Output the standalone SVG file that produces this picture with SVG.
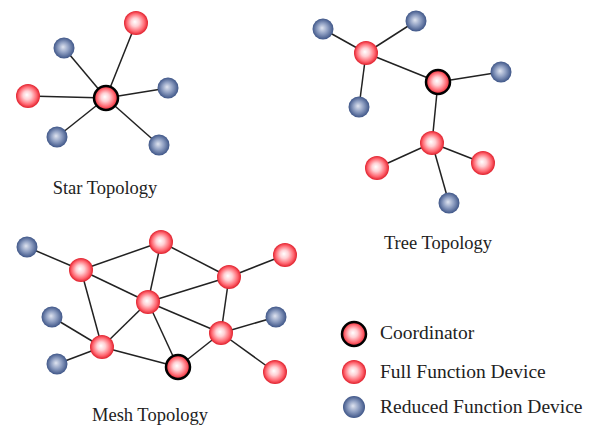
<svg xmlns="http://www.w3.org/2000/svg" width="591" height="427" viewBox="0 0 591 427">
<defs>
<radialGradient id="gR" cx="0.5" cy="0.5" r="0.5" fx="0.45" fy="0.45">
<stop offset="0" stop-color="#ffffff"/>
<stop offset="0.35" stop-color="#ffd0d4"/>
<stop offset="0.75" stop-color="#ff6670"/>
<stop offset="1" stop-color="#e0202c"/>
</radialGradient>
<radialGradient id="gB" cx="0.5" cy="0.5" r="0.5" fx="0.45" fy="0.45">
<stop offset="0" stop-color="#dfe4f0"/>
<stop offset="0.5" stop-color="#8f9fc2"/>
<stop offset="1" stop-color="#3f5688"/>
</radialGradient>
</defs>
<style>
.e line{stroke:#222;stroke-width:1.5}
.r{fill:url(#gR)}
.b{fill:url(#gB)}
.c{fill:url(#gR);stroke:#000;stroke-width:2.5}
text{font-family:"Liberation Serif","Times New Roman",serif;font-size:18.5px;fill:#222}
.t{text-anchor:middle}
.lg{font-size:19.5px}
</style>
<rect width="591" height="427" fill="#fff"/>
<g id="connectors" class="e">
<line x1="106" y1="98" x2="136" y2="23"/>
<line x1="106" y1="98" x2="64" y2="48"/>
<line x1="106" y1="98" x2="28" y2="96"/>
<line x1="106" y1="98" x2="168" y2="88"/>
<line x1="106" y1="98" x2="57" y2="137"/>
<line x1="106" y1="98" x2="159" y2="145"/>
<line x1="366" y1="53" x2="323" y2="29"/>
<line x1="366" y1="53" x2="416" y2="21"/>
<line x1="366" y1="53" x2="359" y2="107"/>
<line x1="366" y1="53" x2="438" y2="82"/>
<line x1="438" y1="82" x2="501" y2="72"/>
<line x1="438" y1="82" x2="432" y2="143"/>
<line x1="432" y1="143" x2="377" y2="168"/>
<line x1="432" y1="143" x2="483" y2="163"/>
<line x1="432" y1="143" x2="449" y2="203"/>
<line x1="27" y1="247" x2="81" y2="270"/>
<line x1="81" y1="270" x2="161" y2="242"/>
<line x1="81" y1="270" x2="148" y2="302"/>
<line x1="81" y1="270" x2="102" y2="347"/>
<line x1="161" y1="242" x2="148" y2="302"/>
<line x1="161" y1="242" x2="229" y2="277"/>
<line x1="229" y1="277" x2="285" y2="255"/>
<line x1="229" y1="277" x2="148" y2="302"/>
<line x1="229" y1="277" x2="221" y2="333"/>
<line x1="148" y1="302" x2="102" y2="347"/>
<line x1="148" y1="302" x2="221" y2="333"/>
<line x1="148" y1="302" x2="178" y2="367"/>
<line x1="102" y1="347" x2="52" y2="317"/>
<line x1="102" y1="347" x2="57" y2="364"/>
<line x1="102" y1="347" x2="178" y2="367"/>
<line x1="178" y1="367" x2="221" y2="333"/>
<line x1="221" y1="333" x2="276" y2="317"/>
<line x1="221" y1="333" x2="275" y2="372"/>
</g>
<g id="star-center"><circle class="c" cx="106" cy="98" r="12"/></g>
<g id="star-top"><circle class="r" cx="136" cy="23" r="12"/></g>
<g id="star-tl"><circle class="b" cx="64" cy="48" r="10.5"/></g>
<g id="star-left"><circle class="r" cx="28" cy="96" r="12"/></g>
<g id="star-right"><circle class="b" cx="168" cy="88" r="10.5"/></g>
<g id="star-bl"><circle class="b" cx="57" cy="137" r="10.5"/></g>
<g id="star-br"><circle class="b" cx="159" cy="145" r="10.5"/></g>
<g id="tree-b1"><circle class="b" cx="323" cy="29" r="10.5"/></g>
<g id="tree-b2"><circle class="b" cx="416" cy="21" r="10.5"/></g>
<g id="tree-r1"><circle class="r" cx="366" cy="53" r="12"/></g>
<g id="tree-b3"><circle class="b" cx="359" cy="107" r="10.5"/></g>
<g id="tree-coord"><circle class="c" cx="438" cy="82" r="12"/></g>
<g id="tree-b4"><circle class="b" cx="501" cy="72" r="10.5"/></g>
<g id="tree-r2"><circle class="r" cx="432" cy="143" r="12"/></g>
<g id="tree-r3"><circle class="r" cx="377" cy="168" r="12"/></g>
<g id="tree-r4"><circle class="r" cx="483" cy="163" r="12"/></g>
<g id="tree-b5"><circle class="b" cx="449" cy="203" r="10.5"/></g>
<g id="mesh-b1"><circle class="b" cx="27" cy="247" r="10.5"/></g>
<g id="mesh-a"><circle class="r" cx="81" cy="270" r="12"/></g>
<g id="mesh-b"><circle class="r" cx="161" cy="242" r="12"/></g>
<g id="mesh-c"><circle class="r" cx="285" cy="255" r="12"/></g>
<g id="mesh-d"><circle class="r" cx="229" cy="277" r="12"/></g>
<g id="mesh-e"><circle class="r" cx="148" cy="302" r="12"/></g>
<g id="mesh-b2"><circle class="b" cx="52" cy="317" r="10.5"/></g>
<g id="mesh-g"><circle class="r" cx="102" cy="347" r="12"/></g>
<g id="mesh-b3"><circle class="b" cx="57" cy="364" r="10.5"/></g>
<g id="mesh-coord"><circle class="c" cx="178" cy="367" r="12"/></g>
<g id="mesh-j"><circle class="r" cx="221" cy="333" r="12"/></g>
<g id="mesh-b4"><circle class="b" cx="276" cy="317" r="10.5"/></g>
<g id="mesh-l"><circle class="r" cx="275" cy="372" r="12"/></g>
<g id="labels">
<text class="t" x="105" y="194">Star Topology</text>
<text class="t" x="438" y="249">Tree Topology</text>
<text class="t" x="150" y="421">Mesh Topology</text>
</g>
<g id="legend">
<circle class="c" cx="354" cy="334" r="12"/>
<text class="lg" x="380" y="339">Coordinator</text>
<circle class="r" cx="354" cy="372" r="12"/>
<text class="lg" x="380" y="378">Full Function Device</text>
<circle class="b" cx="354" cy="407" r="11"/>
<text class="lg" x="380" y="413">Reduced Function Device</text>
</g>
</svg>
